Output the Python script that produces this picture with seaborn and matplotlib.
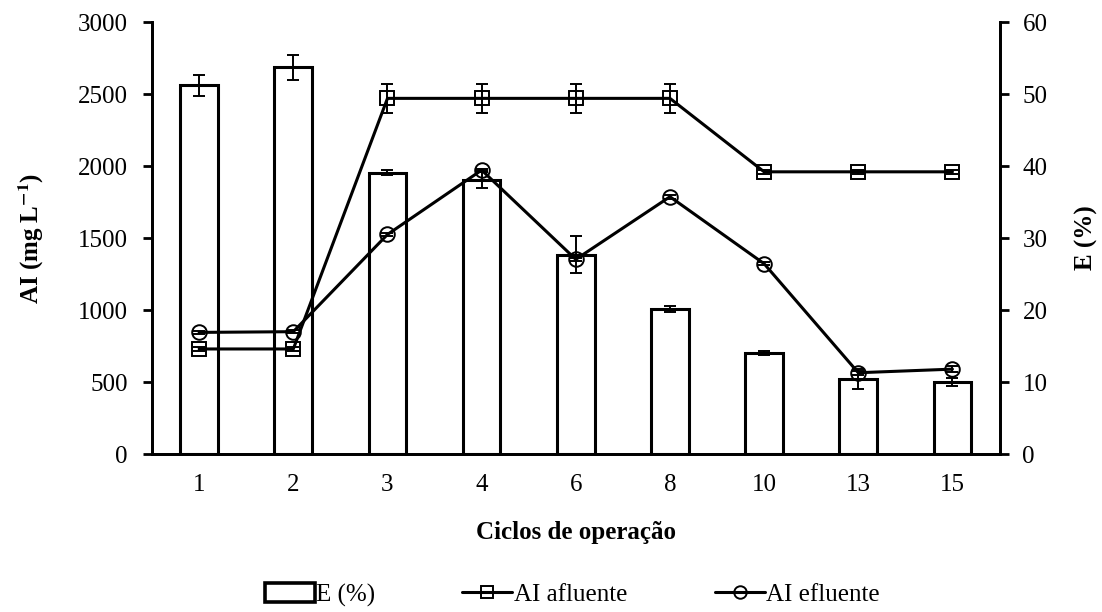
import numpy as np
import pandas as pd
import matplotlib
matplotlib.use("Agg")
import matplotlib.pyplot as plt
import seaborn as sns
from matplotlib.patches import Rectangle
from matplotlib.lines import Line2D

# Operation cycles
cycles = ["1", "2", "3", "4", "6", "8", "10", "13", "15"]

# Removal efficiency E (%) and its deviation
eff = [51.2, 53.7, 39.1, 38.1, 27.7, 20.2, 14.0, 10.4, 10.0]
eff_err = [1.5, 1.7, 0.4, 1.2, 2.6, 0.4, 0.3, 1.4, 0.6]

# Intermediate alkalinity (mg/L), influent and effluent
ai_afl = [730, 730, 2470, 2470, 2470, 2470, 1960, 1960, 1960]
ai_afl_err = [15, 15, 100, 100, 100, 100, 15, 15, 15]
ai_efl = [845, 850, 1525, 1972, 1352, 1787, 1322, 565, 590]
ai_efl_err = [10, 10, 10, 10, 10, 15, 10, 15, 20]

sns.set_theme(style="white")
plt.rcParams["font.family"] = ["Liberation Serif", "DejaVu Serif"]
plt.rcParams["mathtext.fontset"] = "stix"
plt.rcParams["text.color"] = "black"
plt.rcParams["axes.labelcolor"] = "black"
plt.rcParams["xtick.color"] = "black"
plt.rcParams["ytick.color"] = "black"

FS = 18
LW = 2.2
EW = 1.4
CAP = 4.5

df = pd.DataFrame({"ciclo": cycles, "E": eff, "AI_afl": ai_afl, "AI_efl": ai_efl})
pos = np.arange(len(cycles))

fig = plt.figure(figsize=(11.02, 6.12), dpi=100)
ax = fig.add_axes([0.138, 0.258, 0.769, 0.706])
ax2 = ax.twinx()

# Bars: efficiency on the right axis
sns.barplot(data=df, x="ciclo", y="E", ax=ax2, color="white", edgecolor="black",
            linewidth=LW, width=0.4, errorbar=None, saturation=1)
ax2.errorbar(pos, eff, yerr=eff_err, fmt="none", ecolor="black", elinewidth=EW,
             capsize=CAP, capthick=EW)

# Lines: alkalinity on the left axis
sns.lineplot(x=pos, y=ai_afl, ax=ax, color="black", linewidth=LW, marker="s",
             markersize=10, markerfacecolor="none", markeredgecolor="black",
             markeredgewidth=EW)
ax.errorbar(pos, ai_afl, yerr=ai_afl_err, fmt="none", ecolor="black", elinewidth=EW,
            capsize=CAP, capthick=EW, zorder=4)
sns.lineplot(x=pos, y=ai_efl, ax=ax, color="black", linewidth=LW, marker="o",
             markersize=10.5, markerfacecolor="none", markeredgecolor="black",
             markeredgewidth=EW)
ax.errorbar(pos, ai_efl, yerr=ai_efl_err, fmt="none", ecolor="black", elinewidth=EW,
            capsize=CAP, capthick=EW, zorder=4)

# Put the line axis above the bar axis
ax.set_zorder(ax2.get_zorder() + 1)
ax.patch.set_visible(False)

ax.set_xlim(-0.5, len(cycles) - 0.5)
ax.set_ylim(0, 3000)
ax.set_yticks(np.arange(0, 3001, 500))
ax2.set_ylim(0, 60)
ax2.set_yticks(np.arange(0, 61, 10))

ax.set_xticks(pos)
ax.set_xticklabels(cycles)
ax.set_xticks(np.arange(-0.5, len(cycles), 1.0), minor=True)
ax.tick_params(axis="x", which="major", length=0, pad=14, labelsize=FS)
ax.tick_params(axis="x", which="minor", length=6, width=2, direction="out", color="black")
ax.tick_params(axis="y", length=6.5, width=2, direction="out", labelsize=FS, pad=11, left=True)
ax2.tick_params(axis="y", length=6.5, width=2, direction="out", labelsize=FS, pad=10, right=True)

for a in (ax, ax2):
    a.spines["top"].set_visible(False)
    for s in ("left", "right", "bottom"):
        a.spines[s].set_linewidth(2)
        a.spines[s].set_color("black")
    a.grid(False)

ax.set_ylabel("AI (mg L$^{\\mathbf{-1}}$)", fontsize=FS, fontweight="bold", labelpad=23)
ax2.set_ylabel("E (%)", fontsize=FS, fontweight="bold", labelpad=20)
ax.set_xlabel("Ciclos de operação", fontsize=FS, fontweight="bold", labelpad=18)

handles = [
    Rectangle((0, 0), 1, 1, facecolor="white", edgecolor="black", linewidth=2.6),
    Line2D([], [], color="black", linewidth=LW, marker="s", markersize=9,
           markerfacecolor="none", markeredgecolor="black", markeredgewidth=EW),
    Line2D([], [], color="black", linewidth=LW, marker="o", markersize=9,
           markerfacecolor="none", markeredgecolor="black", markeredgewidth=EW),
]
fig.legend(handles, ["E (%)", "AI afluente", "AI efluente"], loc="center",
           bbox_to_anchor=(0.519, 0.028), ncol=3, frameon=False, fontsize=FS,
           handlelength=2.0, handleheight=0.8, handletextpad=0.05, columnspacing=3.5)

fig.savefig("out.png", dpi=100)
